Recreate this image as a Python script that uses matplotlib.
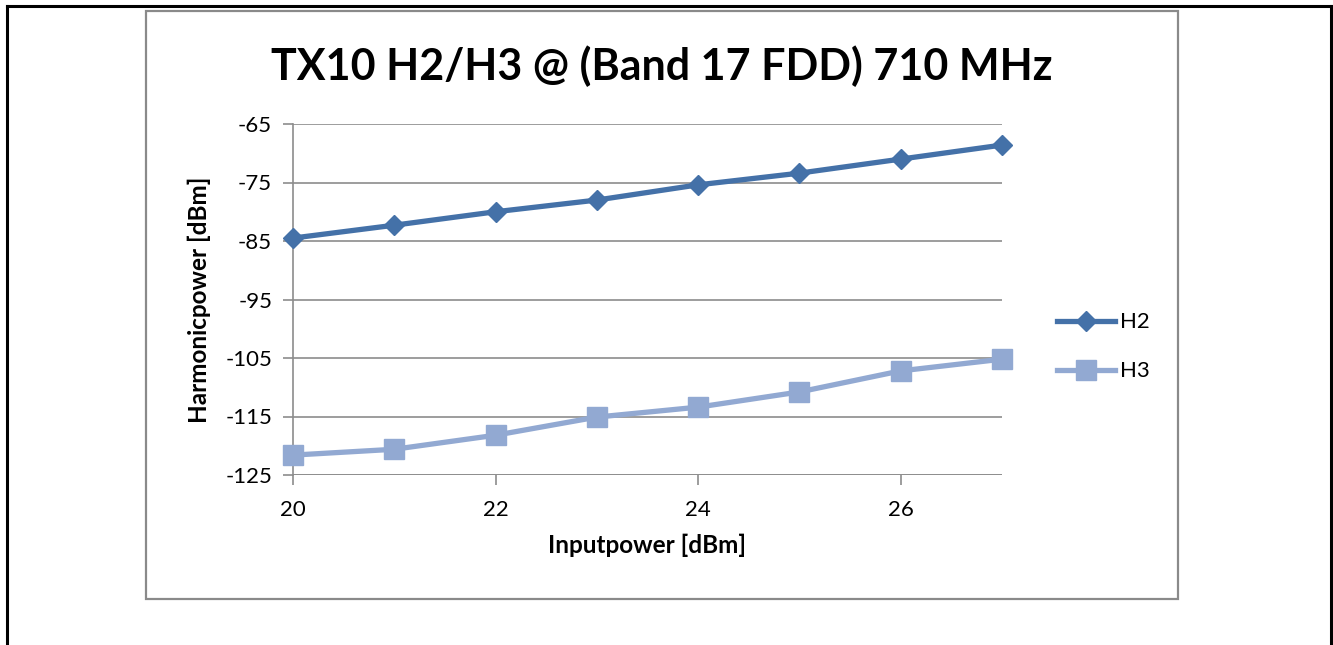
import numpy as np
import matplotlib
matplotlib.use("Agg")
import matplotlib.pyplot as plt
from matplotlib.patches import Rectangle
from matplotlib.lines import Line2D

plt.rcParams.update({"font.family": ["Lato", "DejaVu Sans"], "axes.unicode_minus": False})

# data
input_power = [20, 21, 22, 23, 24, 25, 26, 27]
h2 = [-84.5, -82.3, -80.0, -78.0, -75.4, -73.4, -71.0, -68.6]
h3 = [-121.6, -120.6, -118.2, -115.1, -113.4, -110.8, -107.2, -105.2]
y_ticks = [-65, -75, -85, -95, -105, -115, -125]
x_ticks = [20, 22, 24, 26]

C_H2 = "#4471A8"
C_H3 = "#92A9D2"
GRID = "#8c8c8c"

W, H = 1333, 645
fig = plt.figure(figsize=(W / 100, H / 100), dpi=100)


def px(x, y):
    return x / W, 1 - y / H


# outer page border (black, open at the bottom) and the gray chart frame
fig.add_artist(Line2D([7 / W, 7 / W], [0, 1 - 6 / H], color="black", lw=2.2))
fig.add_artist(Line2D([7 / W, 1331 / W], [1 - 6 / H, 1 - 6 / H], color="black", lw=2.2))
fig.add_artist(Line2D([1331 / W, 1331 / W], [0, 1 - 6 / H], color="black", lw=2.2))
x0, y0 = px(146, 599)
fig.add_artist(Rectangle((x0, y0), (1178 - 146) / W, (599 - 11) / H, transform=fig.transFigure,
                         fill=False, ec="#8a8a8a", lw=1.6))

ax = fig.add_axes([293 / W, 1 - 475 / H, (1002 - 293) / W, (475 - 124) / H])
ax.plot(input_power, h2, color=C_H2, lw=3.8, marker="D", ms=10, label="H2", zorder=3, clip_on=False)
ax.plot(input_power, h3, color=C_H3, lw=3.8, marker="s", ms=14, label="H3", zorder=3, clip_on=False)

ax.set_xlim(20, 27)
ax.set_ylim(-125, -65)
ax.set_yticks(y_ticks)
ax.set_xticks(x_ticks)
ax.tick_params(axis="both", labelsize=16, color=GRID, width=1.2, length=7, direction="out")
ax.tick_params(axis="x", pad=11)
ax.tick_params(axis="y", pad=8)
ax.yaxis.grid(True, color=GRID, lw=1.2)
for s in ["top", "right", "bottom"]:
    ax.spines[s].set_visible(False)
ax.spines["left"].set_color(GRID)
ax.spines["left"].set_linewidth(1.2)
ax.axhline(-125, color=GRID, lw=1.2, zorder=1)

ax.set_xlabel("Inputpower [dBm]", fontsize=17.5, fontweight="bold", labelpad=10)
ax.set_ylabel("Harmonicpower [dBm]", fontsize=17.5, fontweight="bold", labelpad=10)

fig.text(662 / W, 1 - 66 / H, "TX10 H2/H3 @ (Band 17 FDD) 710 MHz", fontsize=31, fontweight="bold",
         ha="center", va="center")

ax.legend(loc="center left", bbox_to_anchor=(1.05, 0.365), frameon=False, fontsize=16,
          handlelength=2.6, labelspacing=1.3, handletextpad=0.2)

fig.savefig("out.png", dpi=100)
